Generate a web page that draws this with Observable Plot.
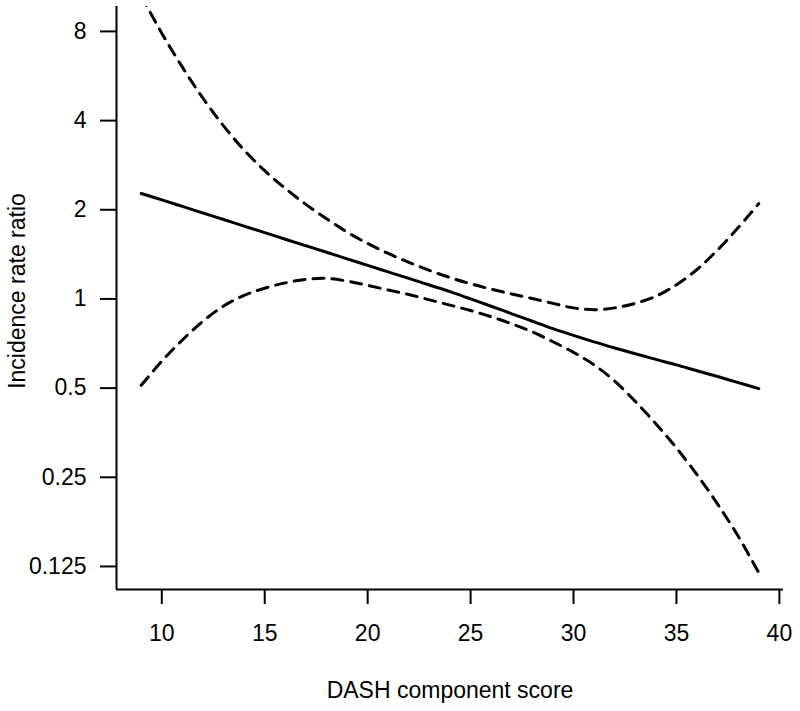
<!DOCTYPE html>
<html>
<head>
<meta charset="utf-8">
<script src="https://cdn.jsdelivr.net/npm/d3@7"></script>
<script src="https://cdn.jsdelivr.net/npm/@observablehq/plot@0.6"></script>
<style>
  html, body { margin: 0; padding: 0; background: #fff; }
  #chart svg { display: block; }
</style>
</head>
<body>
<div id="chart"></div>
<script>
// DASH component score values
const score = [9,10,11,12,13,14,15,16,17,18,19,20,21,22,23,24,25,26,27,28,29,30,31,32,33,34,35,36,37,38,39];
// Incidence rate ratio (estimate)
const irr = [2.270,2.160,2.053,1.951,1.854,1.762,1.674,1.591,1.512,1.437,1.366,1.298,1.234,1.173,1.114,1.058,1.000,0.945,0.891,0.841,0.794,0.753,0.716,0.683,0.653,0.625,0.599,0.572,0.547,0.522,0.498];
// Upper 95% confidence limit
const upper = [10.56,7.89,6.06,4.76,3.84,3.18,2.71,2.36,2.085,1.866,1.682,1.539,1.424,1.329,1.248,1.181,1.125,1.079,1.039,1.003,0.966,0.933,0.920,0.933,0.966,1.021,1.117,1.257,1.464,1.741,2.099];
// Lower 95% confidence limit
const lower = [0.511,0.616,0.727,0.841,0.946,1.028,1.087,1.133,1.165,1.173,1.149,1.111,1.072,1.035,0.993,0.953,0.914,0.871,0.824,0.774,0.717,0.660,0.599,0.528,0.451,0.379,0.314,0.255,0.203,0.158,0.119];

const xTicks = [10,15,20,25,30,35,40];
const yTicks = [0.125,0.25,0.5,1,2,4,8];
const xDomain = [7.8, 40.2];
const yDomain = [0.1045, 9.71];
const xTitle = "DASH component score";
const yTitle = "Incidence rate ratio";

const rows = score.map((s, i) => ({score: s, irr: irr[i], upper: upper[i], lower: lower[i]}));

const font = "'Liberation Sans', Arial, Helvetica, sans-serif";
const fs = 23;

const chart = Plot.plot({
  width: 800,
  height: 711,
  marginLeft: 116,
  marginRight: 17,
  marginTop: 6,
  marginBottom: 122,
  style: {fontFamily: font, fontSize: fs + "px", background: "#fff", color: "#000"},
  x: {domain: xDomain, ticks: xTicks},
  y: {type: "log", domain: yDomain, ticks: yTicks},
  marks: [
    Plot.axisX({ticks: xTicks, tickSize: 15, tickPadding: 20, strokeWidth: 2, fontSize: fs, label: null, tickFormat: d => String(d)}),
    Plot.axisY({ticks: yTicks, tickSize: 16, strokeWidth: 2, label: null, tickFormat: () => ""}),
    Plot.text(yTicks, {y: d => d, frameAnchor: "left", dx: -30, textAnchor: "end", lineAnchor: "middle", text: d => String(d), fontSize: fs, fill: "#000"}),
    Plot.ruleX([xDomain[0]], {stroke: "#000", strokeWidth: 2}),
    Plot.ruleY([yDomain[0]], {stroke: "#000", strokeWidth: 2}),
    Plot.line(rows, {x: "score", y: "upper", stroke: "#000", strokeWidth: 3, strokeDasharray: "11 8", curve: "catmull-rom", clip: true}),
    Plot.line(rows, {x: "score", y: "lower", stroke: "#000", strokeWidth: 3, strokeDasharray: "11 8", curve: "catmull-rom", clip: true}),
    Plot.line(rows, {x: "score", y: "irr", stroke: "#000", strokeWidth: 3, curve: "catmull-rom", clip: true}),
    Plot.text([xTitle], {frameAnchor: "bottom", dy: 101, text: d => d, fontSize: fs, lineAnchor: "middle", textAnchor: "middle", fill: "#000"}),
    Plot.text([yTitle], {frameAnchor: "left", dx: -99, dy: -7, text: d => d, fontSize: fs, rotate: -90, lineAnchor: "middle", textAnchor: "middle", fill: "#000"})
  ]
});
document.getElementById("chart").appendChild(chart);
</script>
</body>
</html>
